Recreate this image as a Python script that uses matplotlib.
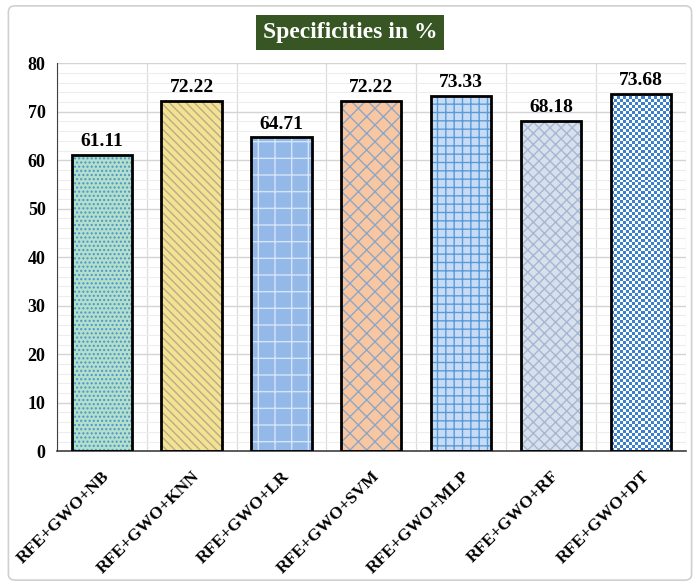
import matplotlib.pyplot as plt
import numpy as np
import matplotlib.transforms as mtransforms
from matplotlib.patches import FancyBboxPatch

models = ['RFE+GWO+NB', 'RFE+GWO+KNN', 'RFE+GWO+LR', 'RFE+GWO+SVM',
          'RFE+GWO+MLP', 'RFE+GWO+RF', 'RFE+GWO+DT']
specificity = [61.11, 72.22, 64.71, 72.22, 73.33, 68.18, 73.68]

# fill colour, hatch colour, hatch pattern for each bar
fills = ['#b3e0cc', '#f4e291', '#94b9e8', '#f8c7a2', '#c6dbf5', '#d8e0ec', '#ffffff']
hatch_cols = ['#4f94c8', '#b5ad8c', '#d6e4f7', '#8ea6c6', '#5b9bd5', '#a3b8d4', '#3a80cc']
hatches = ['....', '\\\\\\\\', '-|', 'xx', '++', 'xxx', None]

plt.rcParams['font.family'] = ['Liberation Serif', 'DejaVu Serif']
plt.rcParams['hatch.linewidth'] = 1.0

fig = plt.figure(figsize=(7, 5.86), dpi=100)
ax = fig.add_axes([0.081, 0.230, 0.899, 0.662])

x = np.arange(len(models))
w = 0.67

bars = []
for i in range(len(models)):
    b = ax.bar(x[i], specificity[i], w, color=fills[i], edgecolor=hatch_cols[i],
               hatch=hatches[i], linewidth=0, zorder=2)
    bars.append(b[0])

# checkerboard texture for the last bar
r = bars[-1]
checker = (np.indices((120, 20)).sum(axis=0) % 2).astype(float)
im = ax.imshow(checker, cmap=plt.matplotlib.colors.ListedColormap(['#ffffff', '#3a80cc']),
               extent=(r.get_x(), r.get_x() + r.get_width(), 0, r.get_height()),
               aspect='auto', interpolation='nearest', zorder=2.5)
im.set_clip_path(r)

ax.bar(x, specificity, w, fill=False, edgecolor='black', linewidth=2, zorder=3)

for i, v in enumerate(specificity):
    ax.text(x[i], v + 1.0, '%.2f' % v, ha='center', va='bottom',
            fontsize=14, fontweight='bold')

ax.set_xlim(-0.5, len(models) - 0.5)
ax.set_ylim(0, 80)
ax.set_yticks(range(0, 81, 10))
ax.set_yticks(range(0, 81, 2), minor=True)
ax.set_xticks(x)
ax.set_xticks(np.arange(-0.5, len(models), 1.0), minor=True)
ax.set_xticklabels(models, rotation=45, ha='right', rotation_mode='anchor',
                   fontsize=12.5, fontweight='bold')
shift = mtransforms.ScaledTranslation(6 / 100, 0, fig.dpi_scale_trans)
for lab in ax.get_xticklabels():
    lab.set_transform(lab.get_transform() + shift)
for lab in ax.get_yticklabels():
    lab.set_fontweight('bold')
    lab.set_fontsize(13)

ax.grid(which='major', axis='y', color='#d4d4d4', linewidth=1.0, zorder=0)
ax.grid(which='minor', axis='y', color='#ededed', linewidth=0.8, zorder=0)
ax.grid(which='minor', axis='x', color='#dcdcdc', linewidth=0.9, zorder=0)
ax.set_axisbelow(True)
ax.tick_params(which='both', length=0)
ax.tick_params(axis='x', pad=12)
ax.tick_params(axis='y', pad=8)
ax.spines['top'].set_visible(False)
ax.spines['right'].set_visible(False)
ax.spines['left'].set_color('#404040')
ax.spines['bottom'].set_color('#404040')
ax.spines['bottom'].set_linewidth(1.2)

fig.text(0.5, 0.945, 'Specificities in %', ha='center', va='center',
         fontsize=17, fontweight='bold', color='white',
         bbox=dict(boxstyle='square,pad=0.3', facecolor='#375623', edgecolor='none'))

border = FancyBboxPatch((0.012, 0.01), 0.976, 0.98, boxstyle='round,pad=0,rounding_size=0.01',
                        transform=fig.transFigure, fill=False, edgecolor='#d0d0d0',
                        linewidth=1.2)
fig.patches.append(border)

fig.savefig('out.png', dpi=100)
